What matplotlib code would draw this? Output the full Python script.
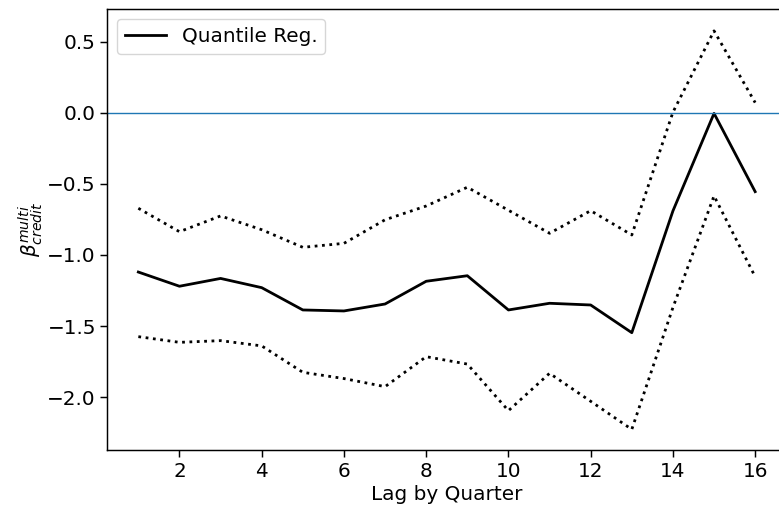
import matplotlib
matplotlib.use("Agg")
import matplotlib.pyplot as plt
import numpy as np

lags = np.arange(1, 17)
coef = [-1.12, -1.22, -1.165, -1.23, -1.387, -1.394, -1.345, -1.185,
        -1.146, -1.387, -1.34, -1.352, -1.547, -0.69, -0.003, -0.554]
upper = [-0.671, -0.836, -0.725, -0.822, -0.946, -0.918, -0.752, -0.655,
         -0.523, -0.685, -0.847, -0.688, -0.859, 0.005, 0.578, 0.073]
lower = [-1.575, -1.615, -1.603, -1.64, -1.826, -1.87, -1.927, -1.716,
         -1.768, -2.096, -1.833, -2.03, -2.228, -1.37, -0.584, -1.153]

plt.rcParams['font.size'] = 14.4
plt.rcParams['axes.linewidth'] = 1.05
plt.rcParams['xtick.major.size'] = 4.8
plt.rcParams['ytick.major.size'] = 4.8
plt.rcParams['xtick.major.width'] = 1.05
plt.rcParams['ytick.major.width'] = 1.05

fig = plt.figure(figsize=(7.79, 5.12), dpi=100)
ax = fig.add_axes([107.5 / 779, 62 / 512, (786 - 107.5) / 779, 441 / 512])

ax.plot(lags, coef, color='black', lw=2, label='Quantile Reg.')
ax.plot(lags, upper, color='black', lw=2, ls=':')
ax.plot(lags, lower, color='black', lw=2, ls=':')
ax.axhline(0, color='#1f77b4', lw=1.0)

ax.set_xticks([2, 4, 6, 8, 10, 12, 14, 16])
ax.set_yticks([0.5, 0.0, -0.5, -1.0, -1.5, -2.0])
ax.set_ylim(-2.373, 0.732)
ax.set_xlabel('Lag by Quarter', labelpad=3)
ax.set_ylabel(r'$\beta^{multi}_{credit}$', labelpad=2)
ax.legend(loc='upper left')

fig.savefig('out.png', dpi=100)
